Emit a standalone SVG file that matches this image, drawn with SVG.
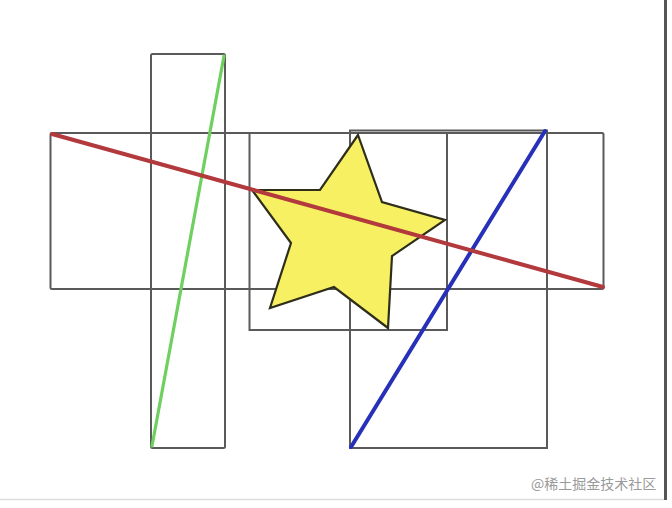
<svg xmlns="http://www.w3.org/2000/svg" width="672" height="508" viewBox="0 0 672 508">
  <style>
    .box { fill: none; stroke: #5a5a5a; stroke-width: 2; }
    .ln { stroke-linecap: round; fill: none; }
    .wm { font-family: "Noto Sans CJK SC", "Liberation Sans", sans-serif; font-size: 14px; fill: #9a9a9a; }
  </style>
  <rect x="0" y="0" width="672" height="508" fill="#ffffff"/>
  <g id="frame">
    <line x1="665.5" y1="0" x2="665.5" y2="500" stroke="#555555" stroke-width="3"/>
    <line x1="0" y1="499.5" x2="664" y2="499.5" stroke="#dddddd" stroke-width="1.5"/>
  </g>
  <g id="rect-tall"><rect class="box" x="151" y="54" width="74" height="394" rx="1.5"/></g>
  <g id="rect-wide"><rect class="box" x="50.5" y="133" width="553" height="156" rx="1.5"/></g>
  <g id="rect-middle"><rect class="box" x="249.5" y="133" width="197.5" height="197"/></g>
  <g id="rect-lower"><rect class="box" x="350" y="130.5" width="197" height="317.5"/></g>
  <g id="star">
    <polygon points="358,135 382,202 445,220 392,256 388,328 334,287 270,308 291,243 252,190 320,190" fill="#f7f063" stroke="#2e2e1a" stroke-width="2.2" stroke-linejoin="miter"/>
  </g>
  <g id="connectors">
    <line class="ln" x1="224" y1="56" x2="152" y2="446" stroke="#6fd060" stroke-width="3.2"/>
    <line class="ln" x1="545" y1="131" x2="351" y2="447" stroke="#2630b8" stroke-width="4"/>
    <line class="ln" x1="52" y1="134" x2="603" y2="287" stroke="#b23a3c" stroke-width="4"/>
  </g>
  <text class="wm" x="531" y="489">@稀土掘金技术社区</text>
</svg>
